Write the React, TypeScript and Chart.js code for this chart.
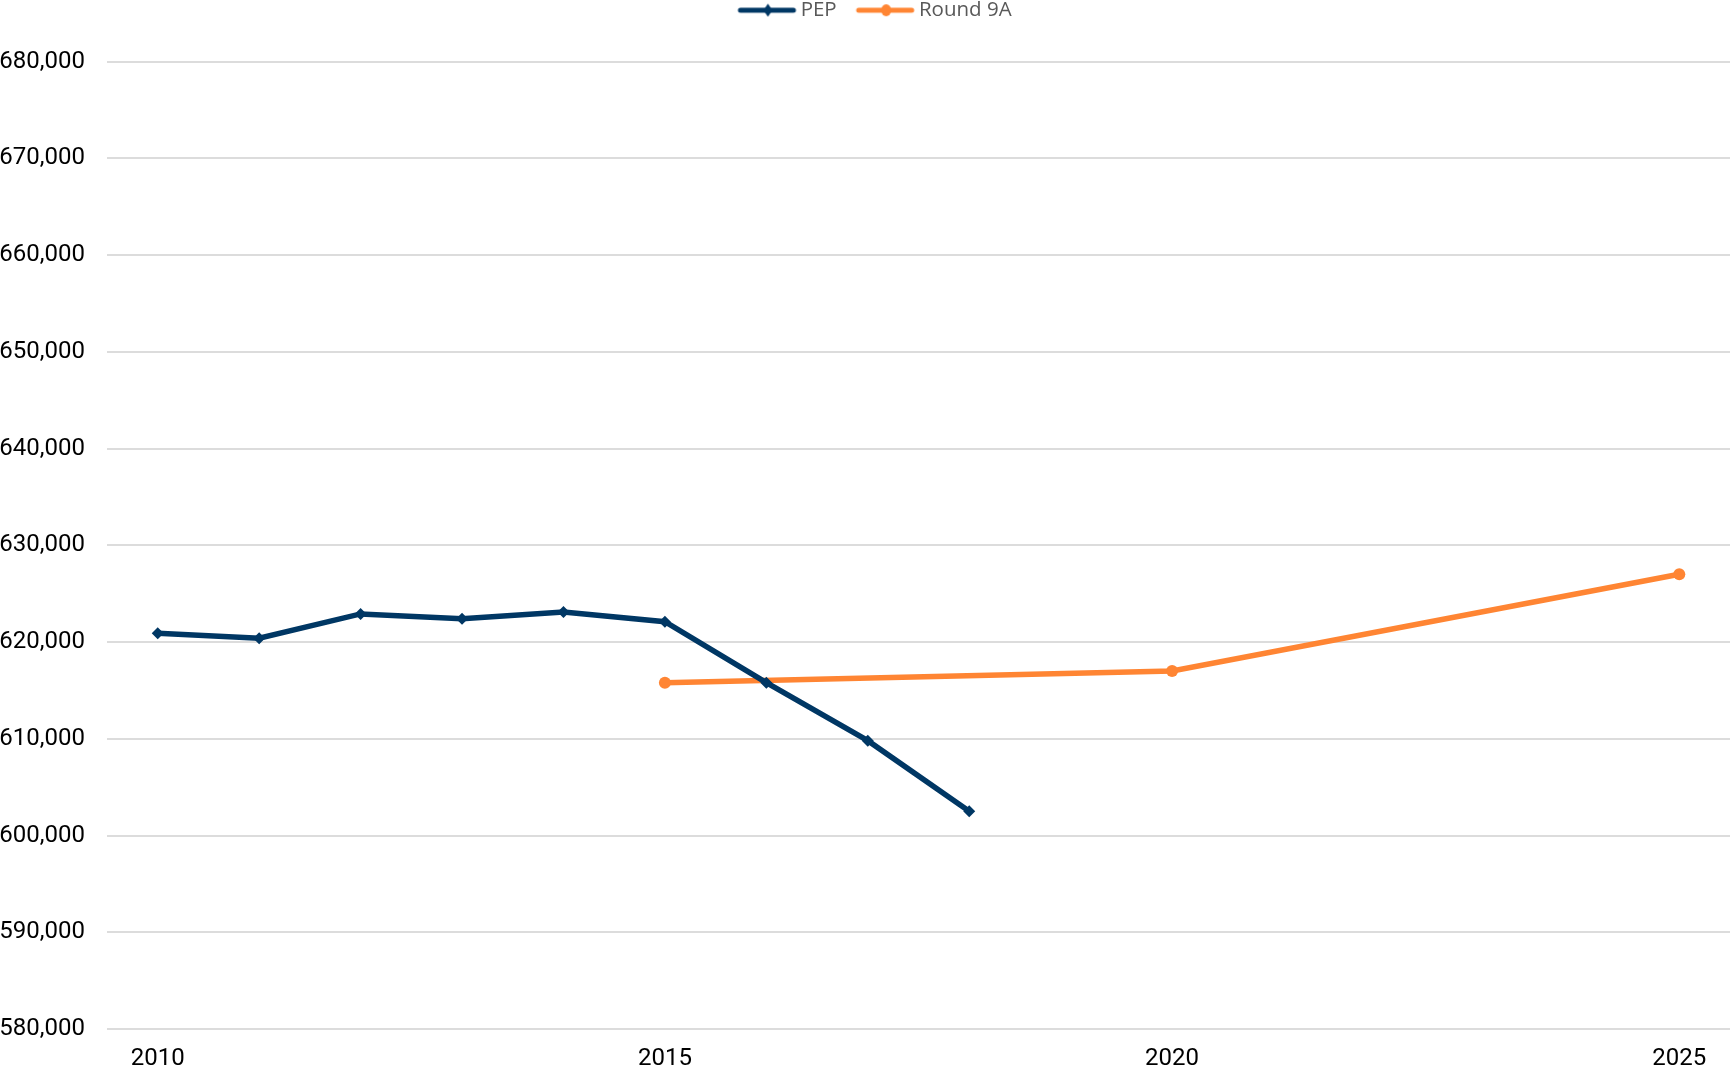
import React, { useEffect, useRef } from "react";
import { Chart, registerables } from "chart.js";

Chart.register(...registerables);

const pepYears = [2010, 2011, 2012, 2013, 2014, 2015, 2016, 2017, 2018];
const pepValues = [620900, 620400, 622900, 622400, 623100, 622100, 615800, 609800, 602500];
const roundYears = [2015, 2020, 2025];
const roundValues = [615800, 617000, 627000];
const xTickYears = [2010, 2015, 2020, 2025];
const seriesNames = ["PEP", "Round 9A"];

const NAVY = "#003764";
const ORANGE = "#FF8533";

function makeLegendIcon(color: string, kind: "diamond" | "circle") {
  const c = document.createElement("canvas");
  c.width = 90;
  c.height = 14;
  const ctx = c.getContext("2d")!;
  ctx.strokeStyle = color;
  ctx.lineWidth = 5;
  ctx.lineCap = "round";
  ctx.beginPath();
  ctx.moveTo(31, 7);
  ctx.lineTo(84, 7);
  ctx.stroke();
  ctx.fillStyle = color;
  ctx.beginPath();
  if (kind === "diamond") {
    ctx.moveTo(58.5, 0.5);
    ctx.lineTo(63, 7);
    ctx.lineTo(58.5, 13.5);
    ctx.lineTo(54, 7);
    ctx.closePath();
  } else {
    ctx.ellipse(58.5, 7, 5, 6, 0, 0, Math.PI * 2);
  }
  ctx.fill();
  return c;
}

export default function App() {
  const ref = useRef<HTMLCanvasElement>(null);
  useEffect(() => {
    document.body.style.margin = "0";
    const icons = [makeLegendIcon(NAVY, "diamond"), makeLegendIcon(ORANGE, "circle")];
    const chart = new Chart(ref.current!, {
      type: "line",
      data: {
        datasets: [
          {
            label: seriesNames[0],
            data: pepYears.map((x, i) => ({ x, y: pepValues[i] })),
            borderColor: NAVY,
            backgroundColor: NAVY,
            borderWidth: 5.5,
            pointStyle: "rectRot",
            pointRadius: 6,
            pointBorderWidth: 0,
            tension: 0,
          },
          {
            label: seriesNames[1],
            data: roundYears.map((x, i) => ({ x, y: roundValues[i] })),
            borderColor: ORANGE,
            backgroundColor: ORANGE,
            borderWidth: 5.5,
            pointStyle: "circle",
            pointRadius: 6,
            pointBorderWidth: 0,
            tension: 0,
          },
        ],
      },
      options: {
        responsive: false,
        animation: false,
        layout: { padding: 0, autoPadding: false },
        plugins: {
          tooltip: { enabled: false },
          legend: {
            position: "top",
            labels: {
              usePointStyle: true,
              pointStyleWidth: 72,
              padding: 0,
              color: "#595959",
              font: { family: "'Open Sans'", size: 20.5 },
              generateLabels: (ch: any) =>
                ch.data.datasets.map((d: any, i: number) => ({
                  text: d.label,
                  pointStyle: icons[i],
                  fillStyle: d.borderColor,
                  strokeStyle: d.borderColor,
                  fontColor: "#595959",
                  lineWidth: 0,
                  hidden: false,
                  datasetIndex: i,
                })),
            },
          },
        },
        scales: {
          x: {
            type: "linear",
            min: 2009.5,
            max: 2025.5,
            grid: { display: false, drawTicks: false },
            border: { display: false },
            afterBuildTicks: (axis: any) => {
              axis.ticks = xTickYears.map((v) => ({ value: v }));
            },
            afterFit: (axis: any) => {
              axis.height = 47;
              axis.paddingRight = 0;
              axis.paddingLeft = 0;
            },
            ticks: {
              padding: 16,
              color: "#000",
              font: { family: "Roboto", size: 24 },
              callback: (v: any) => String(v),
            },
          },
          y: {
            min: 580000,
            max: 680000,
            grid: { color: "#dcdcdc", lineWidth: 2, drawTicks: false },
            border: { display: false },
            afterFit: (axis: any) => {
              axis.width = 107;
            },
            ticks: {
              stepSize: 10000,
              padding: 22,
              color: "#000",
              font: { family: "Roboto", size: 24 },
              callback: (v: any) => Number(v).toLocaleString("en-US"),
            },
          },
        },
      },
      plugins: [
        {
          id: "legendGap",
          beforeInit(ch: any) {
            const lg = ch.legend;
            if (lg) {
              const orig = lg.fit;
              lg.fit = function () {
                orig.call(this);
                this.height += 31;
              };
            }
          },
        },
      ],
    } as any);
    return () => chart.destroy();
  }, []);
  return (
    <div style={{ width: 1730, height: 1076 }}>
      <canvas ref={ref} width={1730} height={1076} />
    </div>
  );
}
